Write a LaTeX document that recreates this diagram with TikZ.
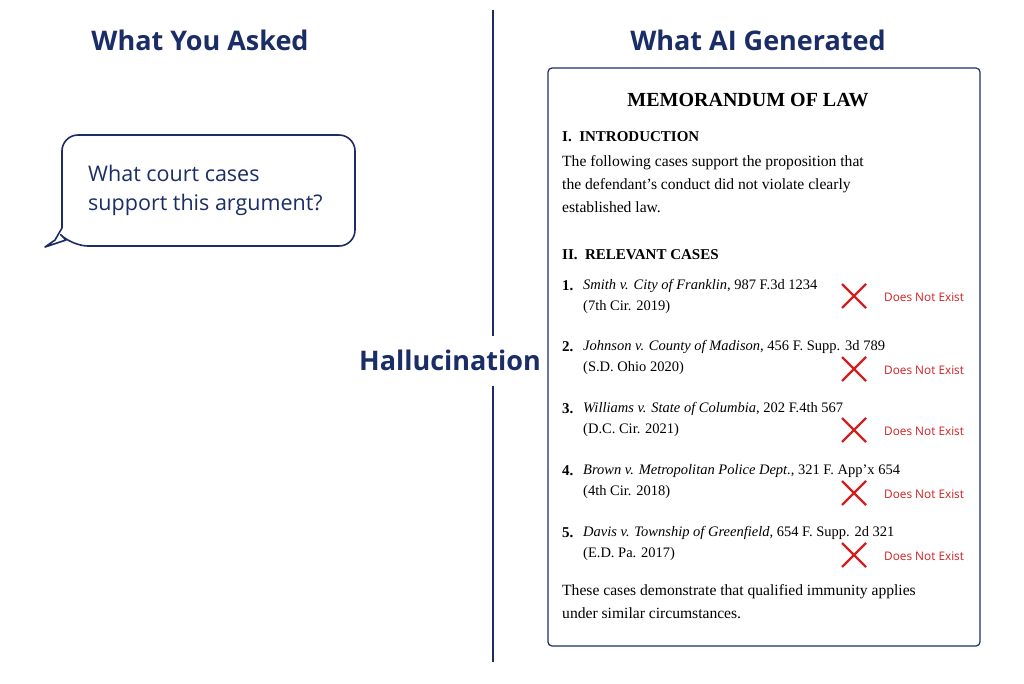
\documentclass[tikz,border=0pt]{standalone}
\usepackage{fontspec}
\setmainfont{Liberation Serif}
\newfontfamily\hsans{Open Sans}
\definecolor{navy}{HTML}{1B2D66}
\definecolor{xred}{HTML}{D21F1F}
\begin{document}
\begin{tikzpicture}[x=1pt,y=-1pt,
  head/.style={font=\hsans\bfseries\fontsize{27}{30}\selectfont,text=navy,inner sep=0},
  memo/.style={font=\fontsize{14.5}{23}\selectfont,anchor=west,inner sep=0},
  para/.style={font=\fontsize{15.6}{23}\selectfont,anchor=north west,align=left,inner sep=0},
  sec/.style={font=\bfseries\fontsize{15}{17}\selectfont,anchor=west,inner sep=0},
  dne/.style={font=\hsans\fontsize{11.8}{13}\selectfont,text=xred,anchor=west,inner sep=0},
  xmark/.style={xred,line width=2.4pt}]
\useasboundingbox (0,0) rectangle (1024,683);
\fill[white] (0,0) rectangle (1024,683);
\node[head] (h1) at (200,40) {What You Asked};
\node[head] (h2) at (758,40) {What AI Generated};
\node[head] (hal) at (450,360) {Hallucination};
\coordinate (t1) at (493,10); \coordinate (b1) at (493,336);
\coordinate (t2) at (493,386); \coordinate (b2) at (493,662);
\draw[navy,line width=1.6pt] (t1)--(b1) (t2)--(b2);
% bubble
\draw[navy,line width=1.6pt,line join=round] (62,200) [rounded corners=16pt] -- (62,135) -- (355,135) -- (355,246) -- (72,246) [sharp corners] -- (66,240) -- (45,247) -- (55,240) -- (62,228) -- cycle;
\node[font=\hsans\fontsize{21.5}{29}\selectfont,text=navy,align=left,anchor=west,inner sep=0] (q) at (88,190) {What court cases\\support this argument?};
% memo
\draw[navy,line width=1.2pt,rounded corners=4pt] (548,68) rectangle (980,646);
\node[font=\bfseries\fontsize{20}{22}\selectfont,inner sep=0] (title) at (748,100) {MEMORANDUM OF LAW};
\node[sec] (s1) at (562,137) {I.\ \ INTRODUCTION};
\node[para] (p1) at (562,155) {The following cases support the proposition that\\the defendant’s conduct did not violate clearly\\established law.};
\node[sec] (s2) at (562,255) {II.\ \ RELEVANT CASES};
\foreach \n/\y/\a/\b/\xy in {
 1/286/{\textit{Smith v. City of Franklin}, 987 F.3d 1234}/{(7th Cir. 2019)}/296,
 2/347/{\textit{Johnson v. County of Madison}, 456 F. Supp. 3d 789}/{(S.D. Ohio 2020)}/369,
 3/409/{\textit{Williams v. State of Columbia}, 202 F.4th 567}/{(D.C. Cir. 2021)}/430,
 4/471/{\textit{Brown v. Metropolitan Police Dept.}, 321 F. App’x 654}/{(4th Cir. 2018)}/493,
 5/533/{\textit{Davis v. Township of Greenfield}, 654 F. Supp. 2d 321}/{(E.D. Pa. 2017)}/555}{
  \node[sec] (n\n) at (562,\y) {\n.};
  \node[memo] (c\n) at (583,\y) {\a};
  \node[memo] (d\n) at (583,\y+21) {\b};
  \draw[xmark] (842,\xy-12) -- (866,\xy+12) (866,\xy-12) -- (842,\xy+12);
  \node[dne] (e\n) at (884,\xy+1) {Does Not Exist};
}
\node[para] (p2) at (562,584) {These cases demonstrate that qualified immunity applies\\under similar circumstances.};
\end{tikzpicture}
\end{document}
